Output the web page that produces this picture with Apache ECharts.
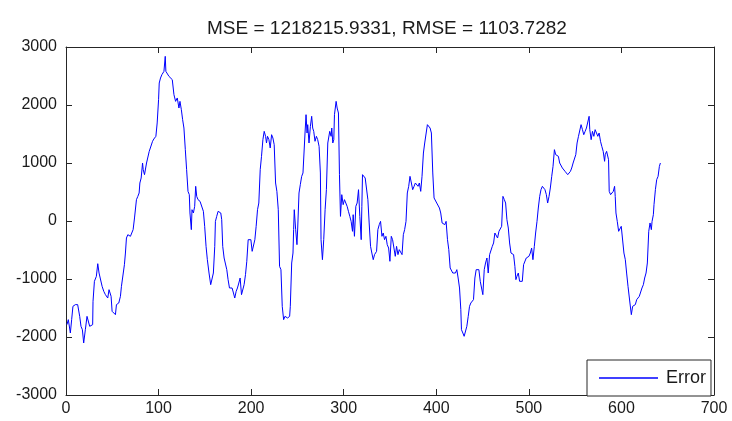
<!DOCTYPE html>
<html>
<head>
<meta charset="utf-8">
<script src="https://cdn.jsdelivr.net/npm/echarts@6/dist/echarts.min.js"></script>
<style>
html,body{margin:0;padding:0;background:#fff;}
#chart{width:732px;height:421px;}
</style>
</head>
<body>
<div id="chart"></div>
<script>
// ---- data ----
const chartTitle = 'MSE = 1218215.9331, RMSE = 1103.7282';
const seriesName = 'Error';
const xRange = [0, 700];
const xStep = 100;
const yRange = [-3000, 3000];
const yStep = 1000;

// sample positions (x) and error values (y)
const sampleIndex = [
1,2.5,4.7,6.1,7.5,10.1,12.6,14.8,16.2,17.7,19.1,20.9,22.7,24.5,25.6,27,28.8,29.2,30.7,32.8,34.3,35.7,37.1,39,40.8,42.6,45.1,46.5,48,48.7,49.8,51.6,53.4,54.5,57,58.8,59.9,61.7,63.1,64.2,65.3,66.8,69.6,71.5,72.5,74,76.1,77.6,79,79.8,81.2,82.7,83.4,84.8,86.3,87,88.4,89.9,91.3,92,93.5,94.9,97.1,98.5,100,100.7,102.1,103.6,105.8,107.2,107.9,109.4,111.2,113,114.8,116.6,118.4,120.2,122,
123.1,124.6,126,127.4,128.9,130.3,131.8,133.2,133.9,135.4,136.1,137.6,139,140.1,141.2,142.6,144.8,146.9,148.4,149.8,151.3,152.7,154.5,156.3,158.1,159.2,160.7,161.4,162.8,164.3,165.7,167.2,168.2,169.3,170.8,172.2,173.7,175.1,176.6,178,179.4,180.9,182.3,183.8,185.2,186.7,188.1,189.6,191,192.4,193.9,195.3,196.8,198.2,199.7,201.1,202.6,204,205.4,206.9,208.3,209.8,211.2,212.7,214.1,215.6,216.6,217.7,219.2,220.6,222.1,223.5,224.9,226.4,227.8,229.3,230.7,232.2,233.6,235.1,236.5,239.4,241.6,
242.3,243.8,245.2,245.9,246.6,248.1,249.5,250.3,251.7,253.1,254.6,256,257.5,258.2,259.3,260.4,261.1,262.5,264,265.4,266.5,267.6,269,270.5,271.9,273.4,274.8,275.5,277,278.4,279.9,281.3,282.8,284.2,284.9,286.4,287.1,288.2,289.3,290,291.8,292.9,294.3,295.4,296.5,297.9,299.4,300.8,302.3,303.7,305.1,306.6,308,309.5,310.2,311.6,313.1,314.5,316,317.4,318.9,319.6,320.3,321.8,323.2,324.6,326.1,327.5,329,330.4,331.9,333.3,335.5,336.9,338.4,339.8,341.3,342.7,344.1,345.6,347,348.5,349.9,351.4,352.8,354.2,355.7,357.1,358.6,360,
361.5,363,364.4,365.8,367.3,368.7,370.2,371.6,373.1,374.5,376,377.4,378.8,380.3,381.7,383.2,384.6,386.1,387.5,389,390.4,391.8,393.3,394.7,396.2,397.6,399.1,400.5,402,403.4,404.8,406.3,407.7,409.2,410.6,412.1,413.5,415,416.4,417.8,419.3,420.7,422.2,423.6,425.1,426.5,427.2,428.7,430.1,431.6,433,434.5,435.9,437.3,438.8,440.2,441.7,443.1,444.6,446,447.5,448.9,450.3,451.8,453.2,454.7,456.1,457.6,459,460.5,461.9,463.3,464.8,466.2,467.7,469.1,470.6,472,473.5,474.9,476.3,477.8,479.2,480.7,
482.1,483.5,484.9,486,487.1,488.6,490,491.4,492.9,494.3,495.8,497.2,498.7,500.1,501.6,503,504.4,505.9,507.3,508.8,510.2,511.7,513.1,514.6,516,517.4,518.9,520.3,521.8,523.2,524.7,526.1,527.6,529,530.4,531.9,533.3,534.8,536.2,537.7,539.1,540.6,542,543.4,544.9,546.3,547.8,549.2,550.7,552.1,553.6,555,556.4,557.9,559.3,560.8,562.2,563.7,565.1,565.8,567.3,568.7,570.2,571.6,573.1,574.5,575.9,577.4,578.8,
580.3,581.8,582.5,584,585.4,586.1,586.8,588.3,589.7,591.2,592.6,593.3,594.1,595.5,597,598.4,599.8,601.3,602.7,604.2,605.6,607.1,608.5,609.2,610.7,612.1,613.6,615,616.5,617.9,619.3,620.8,622.2,623.7,625.1,626.6,628,629.5,630.9,632.3,633.1,634.5,635.2,636.7,638.1,639.6,641,642.1
];
const errorValues = [
-1787,-1701,-1931,-1701,-1471,-1442,-1442,-1644,-1816,-1874,-2103,-1874,-1644,-1615,-1816,-1787,-1787,-1385,-1040,-954,-736,-897,-897,-1126,-1213,-1270,-1328,-1184,-1184,-1299,-1557,-1586,-1615,-1442,-1414,-1299,-1126,-1126,-753,-552,-293,-236,-264,-293,-149,52,368,425,483,655,741,1000,885,799,828,1000,1029,1201,1172,1230,1374,1414,1460,1690,2092,2379,2465,2523,2580,2839,2580,2552,2494,2494,2437,2178,2063,2121,1948,
2063,1919,1747,1603,1230,885,511,454,138,-149,195,138,253,598,425,368,339,310,167,-92,-437,-667,-897,-1098,-1098,-897,-437,-6,80,167,195,138,23,-437,-638,-667,-839,-1011,-1155,-1184,-1155,-1241,-1328,-1213,-1155,-1069,-983,-1270,-1270,-1098,-925,-695,-322,-293,-322,-523,-523,-322,-92,195,310,885,1115,1402,1546,1460,1345,1460,1402,1259,1488,1431,1316,655,511,195,-782,-839,-1471,-1701,-1644,-1672,-1644,
-1471,-724,-552,-149,195,-149,-408,-121,483,626,770,828,856,1517,1833,1517,1661,1345,1632,1805,1603,1546,1374,1460,1402,1287,828,-322,-667,-322,195,540,1345,1345,1546,1460,1603,1345,1402,1833,2063,1948,1862,799,80,454,282,368,397,253,167,80,-6,-178,109,-264,253,310,540,80,-322,253,799,799,741,713,368,-34,-437,-552,-667,-580,-523,-149,-63,-6,-264,-207,-322,-264,-408,-466,-695,-264,-322,-322,-609,-437,-580,-494,
-494,-580,-236,-149,-6,483,598,770,655,540,598,655,684,598,655,511,770,1172,1345,1374,1661,1661,1603,1517,828,397,368,310,339,224,138,-34,-63,-63,-6,-322,-494,-810,-828,-897,-925,-897,-839,-983,-1155,-1529,-1874,-1931,-1988,-2017,-1816,-1644,-1471,-1414,-1385,-1356,-983,-839,-839,-839,-1040,-1069,-1270,-839,-724,-638,-897,-580,-609,-437,-379,-207,-207,-293,-178,-178,-92,425,368,310,23,-121,-379,-552,
-552,-580,-782,-1011,-954,-897,-1040,-1011,-1040,-753,-724,-638,-667,-609,-552,-466,-667,-437,-207,-6,224,425,540,598,569,540,454,310,425,569,770,942,1230,1144,1144,1115,1000,1029,914,885,856,828,799,770,856,914,1000,1029,1144,1345,1460,1488,1661,1575,1488,1546,1603,1632,1805,1575,1402,1546,1460,1575,1546,1460,1517,1374,1287,
1201,1029,1144,1201,1230,1057,511,454,425,511,598,425,138,-6,-178,-149,-92,-121,-552,-667,-897,-1126,-1155,-1414,-1615,-1471,-1500,-1442,-1356,-1328,-1299,-1299,-1155,-1098,-983,-897,-724,-178,-34,-149,-6,109,282,540,713,770,942,1000
];

const lineData = sampleIndex.map((x, i) => [x, errorValues[i]]);

const axisColor = '#262626';
const font = "'Liberation Sans', Arial, sans-serif";
const plainNumber = v => String(v);

const chart = echarts.init(document.getElementById('chart'), null, {renderer: 'canvas'});
chart.setOption({
  animation: false,
  backgroundColor: '#ffffff',
  title: {
    text: chartTitle,
    left: 202,
    top: 14,
    textStyle: {fontFamily: font, fontSize: 19, fontWeight: 'normal', color: '#1a1a1a'}
  },
  legend: {
    data: [{name: seriesName, icon: 'rect'}],
    left: 587,
    top: 360,
    orient: 'horizontal',
    itemWidth: 59,
    itemHeight: 1.5,
    itemGap: 0,
    padding: [9, 5, 9, 12],
    backgroundColor: '#ffffff',
    borderColor: axisColor,
    borderWidth: 1,
    borderRadius: 0,
    textStyle: {fontFamily: font, fontSize: 18, color: '#1a1a1a', padding: [0, 0, 0, 3]}
  },
  grid: {left: 66, right: 18, top: 47, bottom: 26, containLabel: false},
  xAxis: [{
    type: 'value', min: xRange[0], max: xRange[1], interval: xStep,
    position: 'bottom',
    axisLine: {show: true, onZero: false, lineStyle: {color: axisColor, width: 1}},
    axisTick: {show: true, inside: true, length: 6, lineStyle: {color: axisColor}},
    axisLabel: {show: true, margin: 6, fontFamily: font, fontSize: 16, color: '#1a1a1a', formatter: plainNumber},
    splitLine: {show: false}
  }, {
    type: 'value', min: xRange[0], max: xRange[1], interval: xStep,
    position: 'top',
    axisLine: {show: true, onZero: false, lineStyle: {color: axisColor, width: 1}},
    axisTick: {show: true, inside: true, length: 6, lineStyle: {color: axisColor}},
    axisLabel: {show: false},
    splitLine: {show: false}
  }],
  yAxis: [{
    type: 'value', min: yRange[0], max: yRange[1], interval: yStep,
    position: 'left',
    axisLine: {show: true, onZero: false, lineStyle: {color: axisColor, width: 1}},
    axisTick: {show: true, inside: true, length: 6, lineStyle: {color: axisColor}},
    axisLabel: {show: true, margin: 9, fontFamily: font, fontSize: 16, color: '#1a1a1a', formatter: plainNumber},
    splitLine: {show: false}
  }, {
    type: 'value', min: yRange[0], max: yRange[1], interval: yStep,
    position: 'right',
    axisLine: {show: true, onZero: false, lineStyle: {color: axisColor, width: 1}},
    axisTick: {show: true, inside: true, length: 6, lineStyle: {color: axisColor}},
    axisLabel: {show: false},
    splitLine: {show: false}
  }],
  series: [{
    name: seriesName,
    type: 'line',
    xAxisIndex: 0,
    yAxisIndex: 0,
    data: lineData,
    showSymbol: false,
    symbol: 'none',
    color: '#0000ff',
    lineStyle: {color: '#0000ff', width: 1},
    z: 2
  }]
});
</script>
</body>
</html>
